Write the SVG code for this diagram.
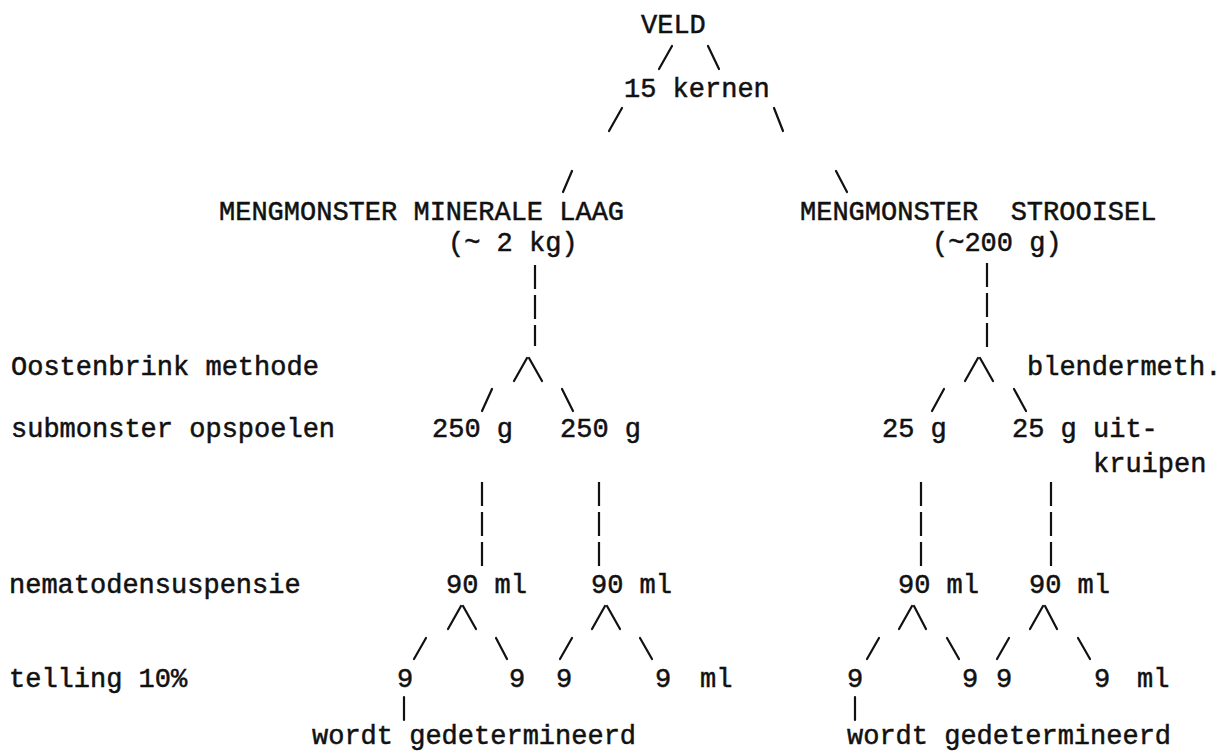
<svg xmlns="http://www.w3.org/2000/svg" width="1220" height="752" viewBox="0 0 1220 752">
  <style>
    text { font-family: "Liberation Mono", "Courier New", monospace; font-size: 27px; fill: #111; stroke: #111; stroke-width: 0.5px; white-space: pre; }
    .con line { stroke: #111; stroke-width: 2.2; stroke-linecap: round; fill: none; }
    .con .dash { stroke-dasharray: 24 6; stroke-linecap: butt; }
  </style>
  <rect x="0" y="0" width="1220" height="752" fill="#fff"/>

  <!-- step labels down the left margin -->
  <g id="labels">
    <text x="11" y="375">Oostenbrink methode</text>
    <text x="11" y="437">submonster opspoelen</text>
    <text x="9" y="593">nematodensuspensie</text>
    <text x="9" y="687">telling 10%</text>
  </g>

  <!-- top of the tree -->
  <g id="veld"><text x="641" y="33">VELD</text></g>
  <g id="kernen"><text x="624" y="97">15 kernen</text></g>

  <!-- mineral layer branch -->
  <g id="minerale-laag">
    <text x="219" y="220">MENGMONSTER MINERALE LAAG</text>
    <text x="448" y="251">(~ 2 kg)</text>
  </g>
  <g id="sub-250-a"><text x="432" y="437">250 g</text></g>
  <g id="sub-250-b"><text x="560" y="437">250 g</text></g>
  <g id="susp-min-a"><text x="446" y="593">90 ml</text></g>
  <g id="susp-min-b"><text x="591" y="593">90 ml</text></g>
  <g id="tel-min">
    <text x="397" y="687">9</text>
    <text x="509" y="687">9</text>
    <text x="556" y="687">9</text>
    <text x="655" y="687">9</text>
    <text x="700" y="687">ml</text>
  </g>
  <g id="det-min"><text x="312" y="744">wordt gedetermineerd</text></g>

  <!-- litter branch -->
  <g id="strooisel">
    <text x="800" y="220" xml:space="preserve">MENGMONSTER  STROOISEL</text>
    <text x="932" y="251">(~200 g)</text>
  </g>
  <g id="blender"><text x="1027" y="375">blendermeth.</text></g>
  <g id="sub-25-a"><text x="882" y="437">25 g</text></g>
  <g id="sub-25-b">
    <text x="1012" y="437">25 g uit-</text>
    <text x="1093" y="472">kruipen</text>
  </g>
  <g id="susp-str-a"><text x="898" y="593">90 ml</text></g>
  <g id="susp-str-b"><text x="1029" y="593">90 ml</text></g>
  <g id="tel-str">
    <text x="847" y="687">9</text>
    <text x="962" y="687">9</text>
    <text x="996" y="687">9</text>
    <text x="1094" y="687">9</text>
    <text x="1137" y="687">ml</text>
  </g>
  <g id="det-str"><text x="847" y="744">wordt gedetermineerd</text></g>

  <!-- connectors: typed slashes and bars -->
  <g id="connectors" class="con">
    <!-- VELD to 15 kernen -->
    <line x1="659" y1="69" x2="672" y2="46"/>
    <line x1="708" y1="46" x2="719" y2="69"/>
    <!-- 15 kernen to the two mixed samples -->
    <line x1="609" y1="131" x2="622" y2="108"/>
    <line x1="774" y1="108" x2="783" y2="131"/>
    <line x1="563" y1="192" x2="572" y2="171"/>
    <line x1="836" y1="171" x2="847" y2="192"/>

    <!-- mineral layer -->
    <line class="dash" x1="535" y1="265" x2="535" y2="346"/>
    <line x1="514" y1="381" x2="527" y2="358"/>
    <line x1="529" y1="358" x2="542" y2="381"/>
    <line x1="482" y1="411" x2="492" y2="389"/>
    <line x1="562" y1="389" x2="573" y2="411"/>
    <line class="dash" x1="482" y1="482" x2="482" y2="571"/>
    <line class="dash" x1="599" y1="482" x2="599" y2="571"/>
    <line x1="448" y1="629" x2="461" y2="606"/>
    <line x1="463" y1="606" x2="476" y2="629"/>
    <line x1="592" y1="629" x2="605" y2="606"/>
    <line x1="607" y1="606" x2="620" y2="629"/>
    <line x1="414" y1="659" x2="426" y2="638"/>
    <line x1="496" y1="638" x2="507" y2="659"/>
    <line x1="560" y1="659" x2="572" y2="638"/>
    <line x1="640" y1="638" x2="652" y2="659"/>
    <line x1="404" y1="697" x2="404" y2="720"/>

    <!-- litter -->
    <line class="dash" x1="987" y1="263" x2="987" y2="347"/>
    <line x1="965" y1="381" x2="978" y2="358"/>
    <line x1="980" y1="358" x2="993" y2="381"/>
    <line x1="932" y1="411" x2="944" y2="389"/>
    <line x1="1014" y1="389" x2="1026" y2="411"/>
    <line class="dash" x1="921" y1="482" x2="921" y2="568"/>
    <line class="dash" x1="1051" y1="482" x2="1051" y2="568"/>
    <line x1="899" y1="629" x2="912" y2="606"/>
    <line x1="914" y1="606" x2="926" y2="629"/>
    <line x1="1030" y1="629" x2="1043" y2="606"/>
    <line x1="1045" y1="606" x2="1057" y2="629"/>
    <line x1="867" y1="659" x2="879" y2="638"/>
    <line x1="947" y1="638" x2="959" y2="659"/>
    <line x1="997" y1="659" x2="1009" y2="638"/>
    <line x1="1078" y1="638" x2="1090" y2="659"/>
    <line x1="855" y1="697" x2="855" y2="720"/>
  </g>
</svg>
